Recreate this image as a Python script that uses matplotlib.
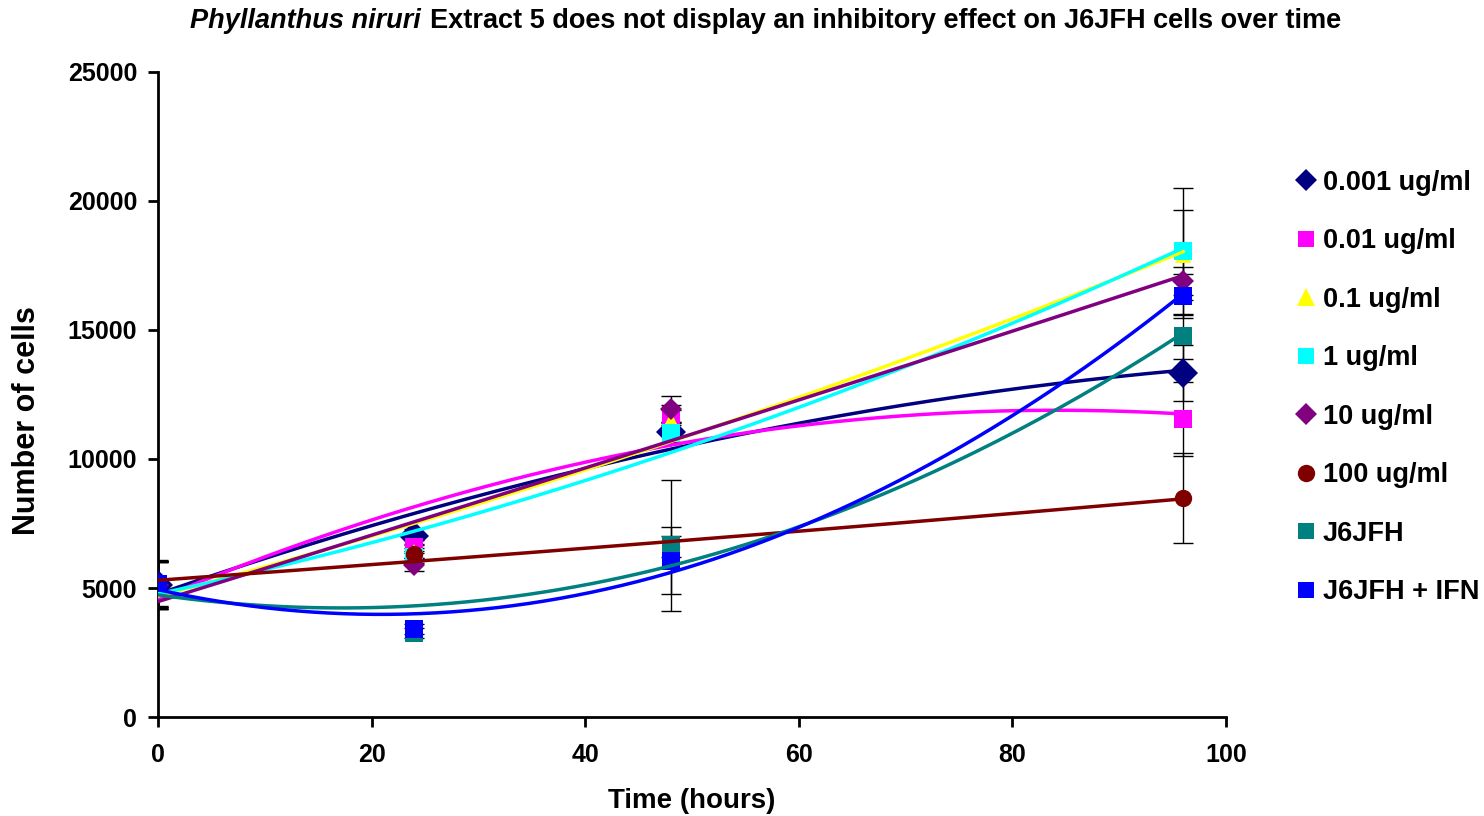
import matplotlib.pyplot as plt
import matplotlib
import numpy as np

matplotlib.rcParams['font.family'] = ['Liberation Sans', 'DejaVu Sans']

# time points (hours)
hours = [0, 24, 48, 96]

labels = ["0.001 ug/ml", "0.01 ug/ml", "0.1 ug/ml", "1 ug/ml",
          "10 ug/ml", "100 ug/ml", "J6JFH", "J6JFH + IFN"]

cells_0001 = [5100, 7000, 11050, 13330]
cells_001  = [5150, 6600, 11700, 11550]
cells_01   = [5100, 6400, 11500, 17900]
cells_1    = [5150, 6200, 11000, 18050]
cells_10   = [5100, 5900, 11950, 16900]
cells_100  = [5200, 6300, 6600, 8490]
cells_j6   = [5130, 3250, 6650, 14750]
cells_ifn  = [5160, 3400, 6050, 16330]

err_0001 = [900, 300, 400, 1100]
err_001  = [900, 250, 400, 1430]
err_01   = [900, 250, 400, 1750]
err_1    = [900, 250, 400, 2450]
err_10   = [900, 250, 500, 550]
err_100  = [900, 250, 400, 1750]
err_j6   = [900, 200, 2530, 880]
err_ifn  = [900, 200, 1300, 850]

series = [cells_0001, cells_001, cells_01, cells_1, cells_10, cells_100, cells_j6, cells_ifn]
errors = [err_0001, err_001, err_01, err_1, err_10, err_100, err_j6, err_ifn]

COLORS  = ["#000080", "#FF00FF", "#FFFF00", "#00FFFF", "#800080", "#800000", "#008080", "#0000FF"]
MARKERS = ["D", "s", "^", "s", "D", "o", "s", "s"]
MSIZES  = [15, 12.8, 12, 12.8, 11.5, 12.5, 12.8, 12.8]
LEG_MS  = [11, 12, 12.5, 12, 11, 12.5, 12, 12]

fig = plt.figure(figsize=(14.84, 8.16), dpi=100)
ax = fig.add_axes([0.1065, 0.1213, 0.7195, 0.7905])

xs = np.linspace(0, 96, 200)
for i, (y, e) in enumerate(zip(series, errors)):
    ax.errorbar(hours, y, yerr=e, fmt="none", ecolor="black", elinewidth=1,
                capsize=7, capthick=1, zorder=2 + i * 0.01)
    ax.plot(hours, y, linestyle="none", marker=MARKERS[i], color=COLORS[i],
            markersize=MSIZES[i], markeredgewidth=0, zorder=3 + i * 0.01)
    # 2nd order polynomial trend line
    coef = np.polyfit(hours, y, 2)
    ax.plot(xs, np.polyval(coef, xs), color=COLORS[i], linewidth=2.5, zorder=4 + i * 0.01)

ax.set_xlim(0, 100)
ax.set_ylim(0, 25000)
ax.set_xticks(range(0, 101, 20))
ax.set_yticks(range(0, 25001, 5000))
for s in ["top", "right"]:
    ax.spines[s].set_visible(False)
for s in ["left", "bottom"]:
    ax.spines[s].set_linewidth(2)
ax.tick_params(direction="out", length=7, width=2, labelsize=18)
ax.tick_params(axis="x", pad=12)
ax.tick_params(axis="y", pad=8)
for t in ax.get_xticklabels() + ax.get_yticklabels():
    t.set_fontweight("bold")

ax.set_xlabel("Time (hours)", fontsize=20, fontweight="bold", labelpad=15)
ax.set_ylabel("Number of cells", fontsize=22, fontweight="bold")
ax.yaxis.set_label_coords(-0.109, 0.46)

# title: italic species name followed by bold text
renderer = fig.canvas.get_renderer()
t1 = fig.text(190 / 1484, 0.974, "Phyllanthus niruri", ha="left", va="center",
              fontsize=19.5, fontweight="bold", fontstyle="italic")
w1 = t1.get_window_extent(renderer).width
fig.text((190 + w1 + 9) / 1484, 0.974,
         "Extract 5 does not display an inhibitory effect on J6JFH cells over time",
         ha="left", va="center", fontsize=19.5, fontweight="bold")

leg_handles = []
for i in range(len(labels)):
    leg_handles.append(plt.Line2D([], [], linestyle="none", marker=MARKERS[i], color=COLORS[i],
                                  markersize=LEG_MS[i], markeredgewidth=0))
fig.legend(leg_handles, labels, loc="upper left", bbox_to_anchor=(0.874, 0.792),
           frameon=False, prop={"weight": "bold", "size": 19.5}, handlelength=0.7,
           handletextpad=0.25, labelspacing=1.2, borderaxespad=0, borderpad=0)

plt.savefig("out.png", dpi=100)
